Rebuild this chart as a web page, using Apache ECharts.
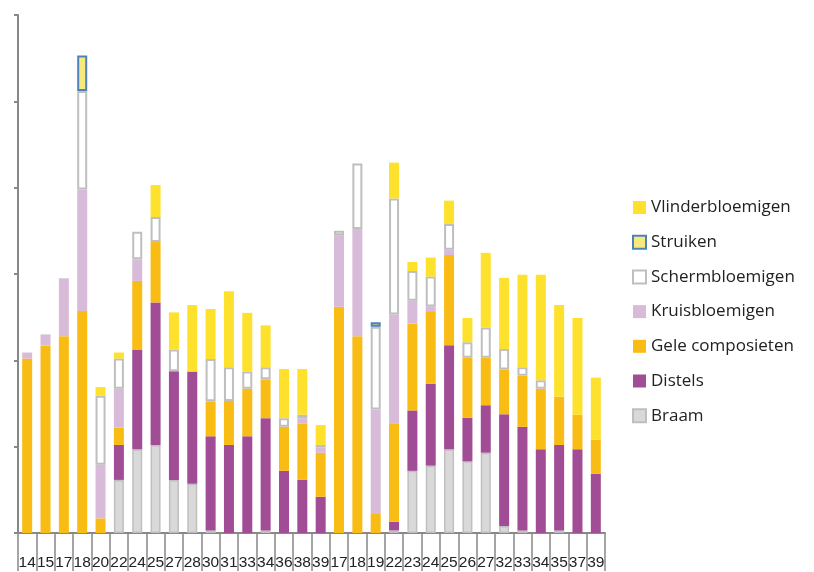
<!DOCTYPE html>
<html>
<head>
<meta charset="utf-8">
<script src="https://cdn.jsdelivr.net/npm/echarts@6/dist/echarts.min.js"></script>
<style>html,body{margin:0;padding:0;background:#fff;}#c{width:814px;height:572px;}</style>
</head>
<body>
<div id="c"></div>
<script>
const categories = ['14','15','17','18','20','22','24','25','27','28','30','31','33','34','36','38','39','17','18','19','22','23','24','25','26','27','32','33','34','35','37','39'];
const braam = ['-','-','-','-','-',6.15,9.7,10.2,6.15,5.7,0.3,'-','-',0.3,'-','-','-','-','-','-',0.3,7.2,7.8,9.7,8.3,9.3,0.8,0.3,'-',0.3,'-','-'];
const distels = ['-','-','-','-','-',4.05,11.5,16.5,12.6,13.0,10.9,10.2,11.2,13.0,7.2,6.15,4.2,'-','-','-',1.0,7.0,9.5,12.05,5.05,5.5,12.95,12.0,9.7,9.9,9.7,6.85];
const gele = [20.2,21.7,22.8,25.7,1.7,2.0,8.0,7.0,'-','-',4.05,5.1,5.5,4.5,5.1,6.55,5.1,26.2,22.8,2.2,11.4,10.05,8.4,10.45,6.95,5.5,5.2,5.9,7.0,5.6,4.0,3.95];
const kruis = [0.7,1.3,6.7,14.1,6.2,4.5,2.5,'-','-','-','-','-','-','-','-',0.6,0.6,8.3,12.4,12.1,12.6,2.65,0.55,0.6,'-','-','-','-','-','-','-','-'];
const scherm = ['-','-','-',11.4,8.0,3.5,3.2,2.9,2.5,'-',4.9,3.9,2.0,1.4,1.0,0.4,0.3,0.5,7.6,9.6,13.45,3.45,3.45,3.0,1.8,3.5,2.35,1.0,1.0,'-','-','-'];
const struiken = ['-','-','-',4.1,'-','-','-','-','-','-','-','-','-','-','-','-','-','-','-',0.5,'-','-','-','-','-','-','-','-','-','-','-','-'];
const vlinder = ['-','-','-','-',1.0,0.7,'-',3.7,4.3,7.7,5.8,8.8,6.8,4.85,5.7,5.3,2.3,'-','-','-',4.15,1.05,2.2,2.7,2.8,8.65,8.25,10.7,12.2,10.6,11.2,7.2];

const seriesDefs = [
  {name:'Braam', data:braam, style:{color:'#D9D9D9', borderColor:'#BFBFBF', borderWidth:1.5}},
  {name:'Distels', data:distels, style:{color:'#A04D96'}},
  {name:'Gele composieten', data:gele, style:{color:'#F9BC15'}},
  {name:'Kruisbloemigen', data:kruis, style:{color:'#D8BBD8'}},
  {name:'Schermbloemigen', data:scherm, style:{color:'#FFFFFF', borderColor:'#BFBFBF', borderWidth:2}},
  {name:'Struiken', data:struiken, style:{color:'#F8EA7A', borderColor:'#4F81BD', borderWidth:2}},
  {name:'Vlinderbloemigen', data:vlinder, style:{color:'#FDE12D'}}
];

const chart = echarts.init(document.getElementById('c'), null, {renderer:'canvas'});
chart.setOption({
  animation:false,
  grid:{left:18, right:209, top:15, bottom:39, containLabel:false},
  legend:{
    orient:'vertical', left:627, top:194, padding:5,
    itemWidth:13, itemHeight:13, itemGap:17.7,
    data:['Vlinderbloemigen','Struiken','Schermbloemigen','Kruisbloemigen','Gele composieten','Distels','Braam'],
    textStyle:{fontFamily:'Open Sans', fontSize:17, color:'#222'},
    icon:'rect'
  },
  xAxis:{
    type:'category', data:categories,
    axisLine:{lineStyle:{color:'#888', width:2}},
    axisTick:{show:true, length:38, lineStyle:{color:'#888', width:1.5}},
    axisLabel:{interval:0, margin:22, fontFamily:'Liberation Sans', fontSize:15.5, color:'#222'}
  },
  yAxis:{
    type:'value', min:0, max:60, interval:10,
    axisLine:{show:true, lineStyle:{color:'#888', width:2}},
    axisTick:{show:true, length:4, lineStyle:{color:'#888', width:2}},
    axisLabel:{show:false},
    splitLine:{show:false}
  },
  series: seriesDefs.map(s => ({
    name:s.name, type:'bar', stack:'t', data:s.data, barWidth:10,
    itemStyle:s.style
  }))
});
</script>
</body>
</html>
